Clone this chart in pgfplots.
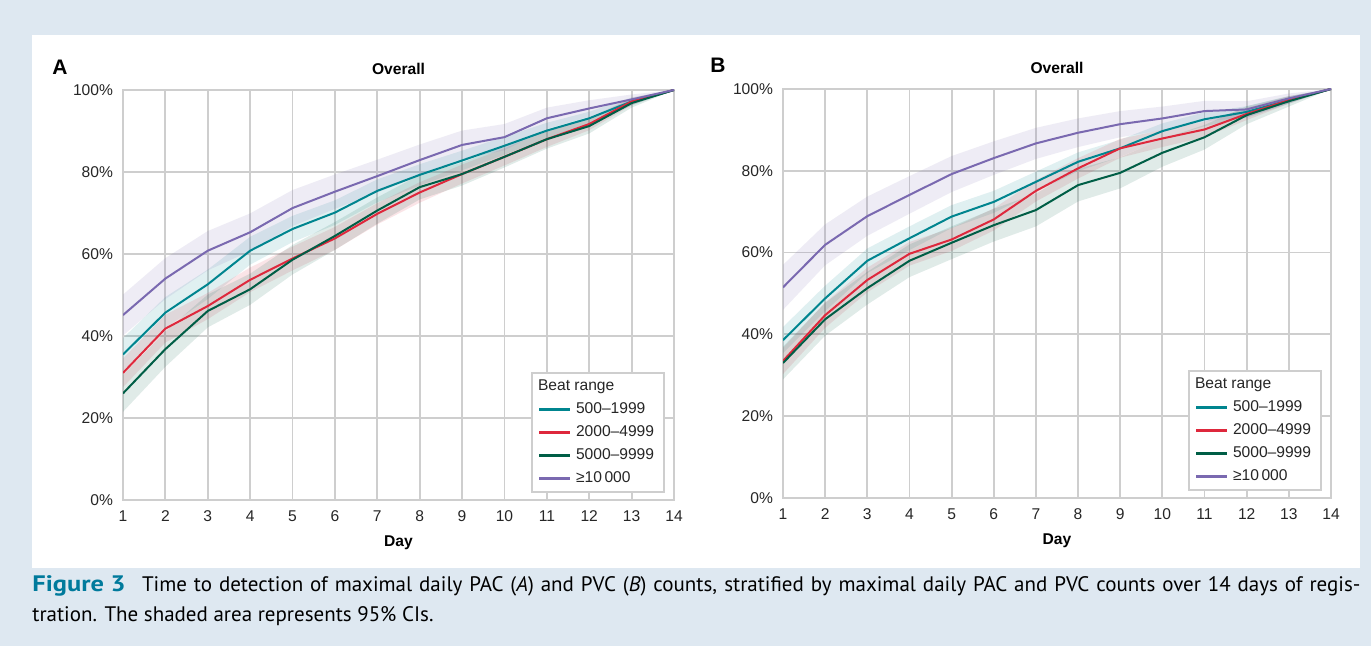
\documentclass[border=0pt]{standalone}
\usepackage{fontspec}
\setmainfont{Liberation Sans}
\newfontfamily\capfont{PT Sans}
\usepackage{graphicx}
\usepackage{pgfplots}
\pgfplotsset{compat=1.18}
\usepackage{pgfplotstable}
\usepgfplotslibrary{fillbetween}

\definecolor{bgblue}{RGB}{222,232,241}
\definecolor{gridc}{RGB}{206,206,206}
\definecolor{cteal}{RGB}{0,133,143}
\definecolor{cred}{RGB}{222,40,60}
\definecolor{cgreen}{RGB}{0,94,70}
\definecolor{cpurple}{RGB}{122,105,176}
\definecolor{capblue}{RGB}{0,122,156}

% ---------- Panel A ----------
\pgfplotstableread{
d m lo hi
1 35.5 31.5 39.5
2 45.7 41.9 49.5
3 52.6 49.0 56.2
4 60.8 57.4 64.2
5 66.1 62.9 69.3
6 70.1 67.1 73.1
7 75.4 72.6 78.2
8 79.3 76.7 81.9
9 82.8 80.4 85.2
10 86.4 84.2 88.6
11 90.1 88.2 92.0
12 93.1 91.5 94.7
13 97.2 96.2 98.2
14 100 100 100
}\tAteal
\pgfplotstableread{
d m lo hi
1 31.0 27.5 34.5
2 41.8 38.4 45.2
3 47.3 44.1 50.5
4 53.7 50.7 56.7
5 58.9 56.0 61.8
6 63.8 61.0 66.6
7 69.8 67.2 72.4
8 75.0 72.5 77.5
9 79.5 77.2 81.8
10 83.7 81.6 85.8
11 88.0 86.1 89.9
12 91.7 90.2 93.2
13 97.2 96.3 98.1
14 100 100 100
}\tAred
\pgfplotstableread{
d m lo hi
1 26.0 21.5 30.5
2 36.8 32.5 41.1
3 46.1 42.1 50.1
4 51.4 47.6 55.2
5 58.6 55.0 62.2
6 64.4 61.0 67.8
7 70.6 67.4 73.8
8 76.3 73.3 79.3
9 79.5 76.7 82.3
10 83.7 81.1 86.3
11 88.0 85.7 90.3
12 91.2 89.4 93.0
13 96.8 95.7 97.9
14 100 100 100
}\tAgreen
\pgfplotstableread{
d m lo hi
1 45.1 40.1 50.1
2 54.0 49.0 59.0
3 60.8 56.0 65.6
4 65.3 60.7 69.9
5 71.2 66.8 75.6
6 75.2 71.0 79.4
7 79.0 75.0 83.0
8 82.9 79.1 86.7
9 86.6 83.1 90.1
10 88.5 85.3 91.7
11 93.1 90.5 95.7
12 95.5 93.5 97.5
13 97.7 96.5 98.9
14 100 100 100
}\tApurple

% ---------- Panel B ----------
\pgfplotstableread{
d m lo hi
1 38.6 35.4 41.8
2 48.8 45.7 51.9
3 58.0 55.0 61.0
4 63.5 60.6 66.4
5 68.8 66.0 71.6
6 72.4 69.7 75.1
7 77.3 74.8 79.8
8 82.2 79.9 84.5
9 85.5 83.4 87.6
10 89.7 87.8 91.6
11 92.6 90.9 94.3
12 94.4 93.0 95.8
13 97.3 96.4 98.2
14 100 100 100
}\tBteal
\pgfplotstableread{
d m lo hi
1 33.5 30.3 36.7
2 44.7 41.6 47.8
3 53.3 50.3 56.3
4 59.7 56.8 62.6
5 63.2 60.4 66.0
6 68.1 65.4 70.8
7 75.1 72.5 77.7
8 80.6 78.1 83.1
9 85.5 83.2 87.8
10 87.9 85.8 90.0
11 90.1 88.2 92.0
12 93.9 92.4 95.4
13 97.3 96.4 98.2
14 100 100 100
}\tBred
\pgfplotstableread{
d m lo hi
1 33.0 29.0 37.0
2 43.7 39.7 47.7
3 51.3 47.3 55.3
4 58.0 54.0 62.0
5 62.4 58.4 66.4
6 66.7 62.7 70.7
7 70.4 66.4 74.4
8 76.5 72.5 80.5
9 79.5 75.7 83.3
10 84.4 81.0 87.8
11 88.2 85.2 91.2
12 93.6 91.4 95.8
13 97.0 95.7 98.3
14 100 100 100
}\tBgreen
\pgfplotstableread{
d m lo hi
1 51.5 46.0 57.0
2 61.9 56.9 66.9
3 68.9 64.1 73.7
4 74.1 69.5 78.7
5 79.2 74.8 83.6
6 83.1 79.0 87.2
7 86.7 82.9 90.5
8 89.3 85.8 92.8
9 91.4 88.2 94.6
10 92.8 89.9 95.7
11 94.6 92.1 97.1
12 95.0 93.0 97.0
13 97.7 96.5 98.9
14 100 100 100
}\tBpurple

\newcommand{\band}[3]{%
  \addplot[name path=#3hi, draw=none, forget plot] table[x=d,y=hi]{#1};
  \addplot[name path=#3lo, draw=none, forget plot] table[x=d,y=lo]{#1};
  \addplot[fill=#2, fill opacity=0.12, draw=none, forget plot] fill between[of=#3hi and #3lo];
}

\pgfplotsset{
  panel/.style={
    scale only axis,
    anchor=south west,
    xmin=1, xmax=14, ymin=0, ymax=100,
    xtick={1,...,14}, ytick={0,20,...,100},
    /pgf/number format/assume math mode=true,
    yticklabel={\pgfmathprintnumber{\tick}\%},
    grid=major,
    grid style={gridc, line width=0.9pt},
    axis line style={gridc, line width=0.9pt},
    major tick length=0pt,
    ticklabel style={font=\fontsize{7.8}{9}\selectfont, text=black!85},
    xticklabel style={yshift=-2pt},
    yticklabel style={xshift=-1.5pt},
    xlabel={Day},
    xlabel style={font=\fontsize{7.8}{9}\selectfont\bfseries, at={(axis description cs:0.5,0)}, anchor=center, yshift=-21.5pt},
    title={Overall},
    title style={font=\fontsize{7.8}{9}\selectfont\bfseries, at={(axis description cs:0.5,1)}, anchor=center, yshift=4.5pt},
    legend cell align=left,
    legend style={at={(1,0)}, anchor=south east, xshift=-4.5pt, yshift=3.5pt,
      draw=gridc, line width=0.9pt, font=\fontsize{7.8}{9}\selectfont, text=black!85,
      row sep=0.5pt, inner xsep=3pt, inner ysep=1.5pt},
    legend image code/.code={\draw[##1, line width=1.6pt] (0pt,0pt) -- (15.5pt,0pt);},
    legend entries={\hspace{-19pt}Beat range, 500–1999, 2000–4999, 5000–9999, ≥10\,000},
  },
  ln/.style={line width=1pt, line join=round},
}

\begin{document}
\begin{tikzpicture}

\node[font=\fontsize{10.5}{12}\selectfont\bfseries] at (30pt,289.5pt) {A};
\node[font=\fontsize{10.5}{12}\selectfont\bfseries] at (359pt,290.5pt) {B};

\begin{axis}[panel, at={(61.5pt,73pt)}, width=275.5pt, height=205pt]
\addlegendimage{empty legend}
\band{\tAteal}{cteal}{at}
\band{\tAred}{cred}{ar}
\band{\tAgreen}{cgreen}{ag}
\band{\tApurple}{cpurple}{ap}
\addplot[ln, cteal] table[x=d,y=m]{\tAteal};
\addplot[ln, cred] table[x=d,y=m]{\tAred};
\addplot[ln, cgreen] table[x=d,y=m]{\tAgreen};
\addplot[ln, cpurple] table[x=d,y=m]{\tApurple};
\end{axis}

\begin{axis}[panel, at={(391.5pt,74pt)}, width=274pt, height=204.5pt]
\addlegendimage{empty legend}
\band{\tBteal}{cteal}{bt}
\band{\tBred}{cred}{br}
\band{\tBgreen}{cgreen}{bg}
\band{\tBpurple}{cpurple}{bp}
\addplot[ln, cteal] table[x=d,y=m]{\tBteal};
\addplot[ln, cred] table[x=d,y=m]{\tBred};
\addplot[ln, cgreen] table[x=d,y=m]{\tBgreen};
\addplot[ln, cpurple] table[x=d,y=m]{\tBpurple};
\end{axis}

\begin{pgfonlayer}{axis background}
\fill[bgblue] (0pt,0pt) rectangle (685.5pt,323pt);
\fill[white] (15.9pt,39.2pt) rectangle (680pt,305.5pt);
\end{pgfonlayer}

\node[anchor=base west, inner sep=0pt, font=\capfont\fontsize{10.5}{12}\selectfont] at (16pt,27pt)
  {\makebox[664pt][s]{\textcolor{capblue}{\scalebox{1.18}[1]{\fontsize{11.2}{12}\selectfont\bfseries Figure 3}}\hspace{0.45em} Time to detection of maximal daily PAC (\textit{A}) and PVC (\textit{B}) counts, stratified by maximal daily PAC and PVC counts over 14 days of regis-}};
\node[anchor=base west, inner sep=0pt, font=\capfont\fontsize{10.5}{12}\selectfont] at (16pt,12.2pt)
  {tration. The shaded area represents 95\% CIs.};
\pgfresetboundingbox
\useasboundingbox (0pt,0pt) rectangle (685.5pt,323pt);
\end{tikzpicture}
\end{document}
